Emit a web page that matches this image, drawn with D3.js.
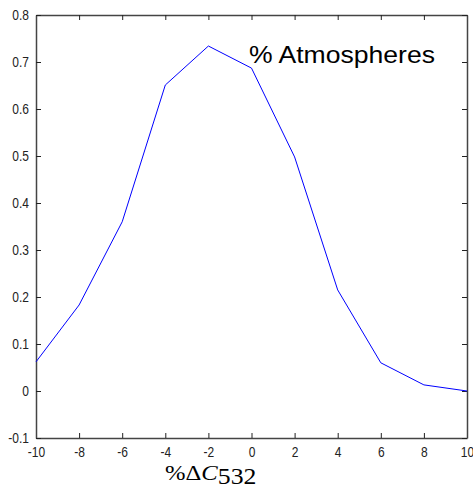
<!DOCTYPE html>
<html lang="en">
<head>
  <meta charset="UTF-8">
  <title>% Atmospheres</title>
  <script src="https://d3js.org/d3.v7.min.js"></script>
  <style>
    body { margin: 0; background: #fff; }
  </style>
</head>
<body>
<svg id="chart" width="473" height="490"></svg>
<script>
  // values
  const deltaC = [-10, -8, -6, -4, -2, 0, 2, 4, 6, 8, 10];
  const atmos = [0.062, 0.183, 0.36, 0.651, 0.734, 0.687, 0.498, 0.215, 0.06, 0.013, 0.0];
  const xTicks = [-10, -8, -6, -4, -2, 0, 2, 4, 6, 8, 10];
  const yTicks = [-0.1, 0, 0.1, 0.2, 0.3, 0.4, 0.5, 0.6, 0.7, 0.8];

  const svg = d3.select("#chart"),
      margin = { top: 15, right: 6, bottom: 52, left: 36 },
      width = +svg.attr("width") - margin.left - margin.right,
      height = +svg.attr("height") - margin.top - margin.bottom;

  const g = svg.append("g").attr("transform", `translate(${margin.left},${margin.top})`);

  const x = d3.scaleLinear().domain([-10, 10]).range([0, width]);
  const y = d3.scaleLinear().domain([-0.1, 0.8]).range([height, 0]);

  const axisColor = "#444";
  const tickFont = "'Liberation Sans', Arial, sans-serif";

  // bottom axis (ticks pointing inward)
  const xb = g.append("g")
      .attr("transform", `translate(0,${height})`)
      .call(d3.axisBottom(x).tickValues(xTicks).tickSizeInner(-5).tickSizeOuter(0).tickPadding(8)
        .tickFormat(d => String(d)));
  // top axis
  const xt = g.append("g")
      .call(d3.axisTop(x).tickValues(xTicks).tickSizeInner(-5).tickSizeOuter(0).tickFormat(""));
  // left axis
  const yl = g.append("g")
      .call(d3.axisLeft(y).tickValues(yTicks).tickSizeInner(-5).tickSizeOuter(0).tickPadding(7)
        .tickFormat(d => d === 0 ? "0" : d.toFixed(1)));
  // right axis
  const yr = g.append("g")
      .attr("transform", `translate(${width},0)`)
      .call(d3.axisRight(y).tickValues(yTicks).tickSizeInner(-5).tickSizeOuter(0).tickFormat(""));

  [xb, xt, yl, yr].forEach(a => {
    a.select(".domain").attr("stroke", axisColor).attr("stroke-width", 1.5);
    a.selectAll(".tick line").attr("stroke", "#222");
    a.selectAll(".tick text")
      .attr("fill", "#222")
      .style("font-size", "15px")
      .style("font-family", tickFont)
      .each(function() {
        // matlab-ish condensed labels
        const w = this.getComputedTextLength();
        d3.select(this).attr("textLength", w * 0.8).attr("lengthAdjust", "spacingAndGlyphs");
      });
  });

  // data line
  const line = d3.line().x((d, i) => x(deltaC[i])).y(d => y(d));
  g.append("path")
      .datum(atmos)
      .attr("fill", "none")
      .attr("stroke", "#0000ff")
      .attr("stroke-width", 1)
      .attr("d", line);

  // annotation
  svg.append("text")
      .attr("x", 249)
      .attr("y", 63)
      .style("font-family", "'Liberation Sans', Arial, sans-serif")
      .style("font-size", "24px")
      .attr("fill", "#000")
      .attr("textLength", 186)
      .attr("lengthAdjust", "spacingAndGlyphs")
      .text("% Atmospheres");

  // x axis label
  const lab = svg.append("text")
      .attr("transform", "translate(165,480) scale(1.12,1)")
      .style("font-family", "'Liberation Serif', 'Times New Roman', serif")
      .style("font-size", "22px")
      .attr("fill", "#000");
  lab.append("tspan").text("%Δ");
  lab.append("tspan").style("font-style", "italic").text("C");
  lab.append("tspan").attr("dy", 4).style("font-size", "23px").text("532");
</script>
</body>
</html>
